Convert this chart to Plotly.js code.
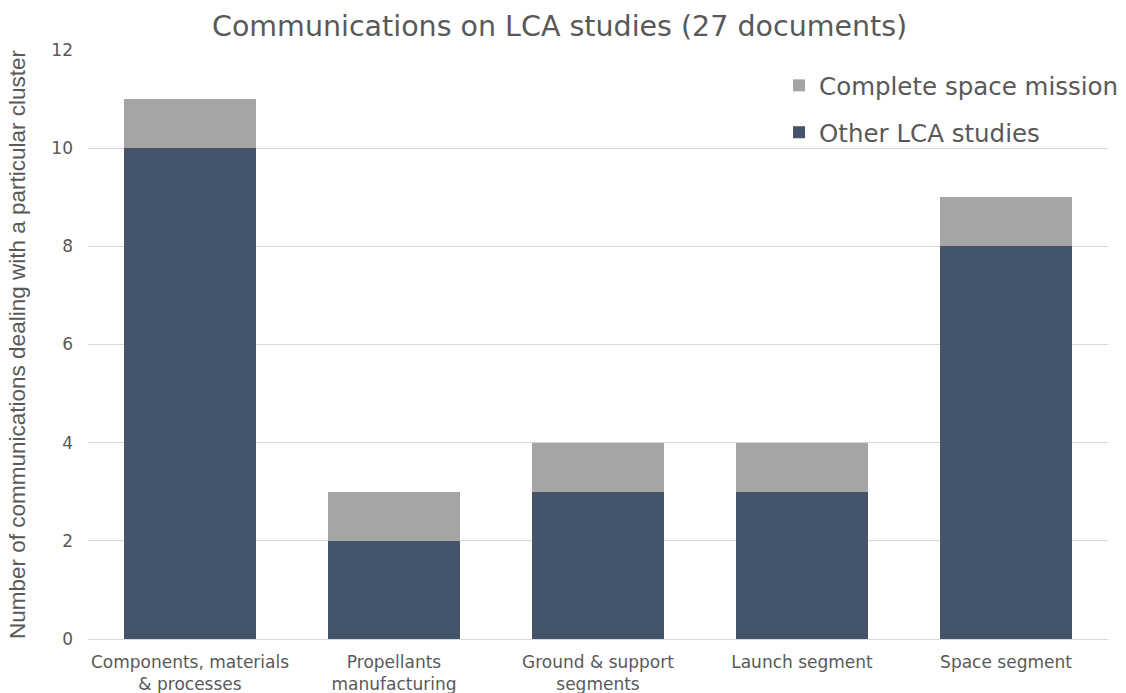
<!DOCTYPE html>
<html><head><meta charset="utf-8">
<script src="https://cdn.plot.ly/plotly-3.0.1.min.js"></script>
<style>html,body{margin:0;padding:0;background:#fff}#c{width:1126px;height:693px}</style>
</head><body><div id="c"></div>
<script>
const categories = ["Components, materials<br>& processes","Propellants<br>manufacturing","Ground & support<br>segments","Launch segment","Space segment"];
const otherLCA = [10, 2, 3, 3, 8];
const completeMission = [1, 1, 1, 1, 1];
const yTicks = [0, 2, 4, 6, 8, 10, 12];

const txt = '#595959';
const data = [
  {type:'bar', name:'Other LCA studies', x:categories, y:otherLCA, marker:{color:'#44546A'}, legendgroup:'a', legendrank:2, hoverinfo:'y'},
  {type:'bar', name:'Complete space mission', x:categories, y:completeMission, marker:{color:'#A5A5A5'}, legendgroup:'b', legendrank:1, hoverinfo:'y'}
];
const layout = {
  width:1126, height:693,
  margin:{l:88, r:18, t:50, b:54, autoexpand:false},
  barmode:'stack', bargap:0.353,
  paper_bgcolor:'#fff', plot_bgcolor:'#fff',
  title:{text:'Communications on LCA studies (27 documents)', font:{family:'DejaVu Sans', size:28.5, color:txt}, x:0.497, xanchor:'center', y:0.963, yanchor:'middle'},
  xaxis:{tickfont:{family:'DejaVu Sans', size:17, color:txt}, showgrid:false, showline:false, ticks:'', ticklabelstandoff:11, fixedrange:true},
  yaxis:{range:[0,12], tickvals:yTicks, ticktext:yTicks.map(String), tickfont:{family:'DejaVu Sans', size:17, color:txt}, gridcolor:'#D9D9D9', gridwidth:1, zeroline:true, zerolinecolor:'#D9D9D9', zerolinewidth:1, ticks:'', ticklabelstandoff:14,
    title:{text:'Number of communications dealing with a particular cluster', font:{family:'Liberation Sans', size:22.5, color:txt}, standoff:19}},
  legend:{x:0.6775, xanchor:'left', y:0.978, yanchor:'top', traceorder:'grouped', tracegroupgap:12, font:{family:'DejaVu Sans', size:24.5, color:txt}, bgcolor:'rgba(0,0,0,0)', itemwidth:30},
  showlegend:true
};
Plotly.newPlot('c', data, layout, {displayModeBar:false, staticPlot:true});
</script></body></html>
